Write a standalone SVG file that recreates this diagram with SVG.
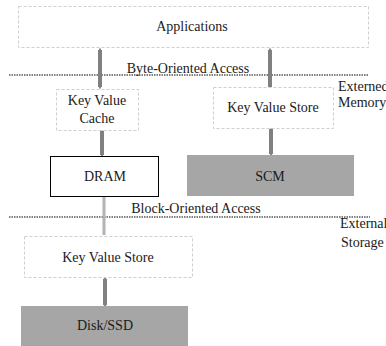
<svg xmlns="http://www.w3.org/2000/svg" width="386" height="346" viewBox="0 0 386 346" font-family="'Liberation Serif', 'Times New Roman', serif">
<defs>
<style>
text{font-family:"Liberation Serif","Times New Roman",serif;font-size:14px;fill:#1a1a1a}
.c{text-anchor:middle}
.dash{fill:#fff;stroke:#cfcfcf;stroke-width:1;stroke-dasharray:3 2}
.gray{fill:#a6a6a6;stroke:none}
.sep{stroke:#000;stroke-width:1;stroke-dasharray:1.5 1}
.arr{stroke:#808080;stroke-width:4;fill:none;marker-start:url(#h);marker-end:url(#h)}
</style>
<marker id="h" viewBox="0 0 4 4" refX="2" refY="2" markerWidth="1.75" markerHeight="1.2" orient="auto-start-reverse" markerUnits="strokeWidth">
<path d="M0,0 L4,2 L0,4 Z" fill="#808080"/>
</marker>
</defs>
<g id="connectors">
<line class="sep" x1="9" y1="75" x2="368" y2="75"/>
<line class="sep" x1="9" y1="217" x2="370" y2="217"/>
<line class="arr" x1="100" y1="50" x2="100" y2="87"/>
<line class="arr" x1="270" y1="50" x2="270" y2="87"/>
<line class="arr" x1="102" y1="131" x2="102" y2="155"/>
<line class="arr" x1="271" y1="129" x2="271" y2="154"/>
<line x1="104" y1="196" x2="104" y2="235" stroke="#b3b3b3" stroke-width="3"/>
<line class="arr" x1="105" y1="279" x2="105" y2="305"/>
</g>
<g id="applications">
<rect class="dash" x="18.5" y="6.5" width="350" height="41"/>
<text class="c" x="192" y="31">Applications</text>
</g>
<g id="byte-label"><text class="c" x="188" y="73">Byte-Oriented Access</text></g>
<g id="kv-cache">
<rect class="dash" x="56.5" y="89.5" width="82" height="41"/>
<text class="c" x="97" y="105">Key Value</text>
<text class="c" x="97" y="123">Cache</text>
</g>
<g id="kv-store-top">
<rect class="dash" x="213.5" y="87.5" width="120" height="41"/>
<text class="c" x="273" y="112">Key Value Store</text>
</g>
<g id="ext-memory">
<text x="338" y="91">Externed</text>
<text x="338" y="107">Memory</text>
</g>
<g id="dram">
<rect x="50.5" y="156.5" width="108" height="40" fill="#fff" stroke="#000" stroke-width="1"/>
<text class="c" x="105" y="181">DRAM</text>
</g>
<g id="scm">
<rect class="gray" x="187" y="155" width="167" height="41"/>
<text class="c" x="270" y="181">SCM</text>
</g>
<g id="block-label"><text class="c" x="196" y="213">Block-Oriented Access</text></g>
<g id="ext-storage">
<text x="340" y="228">External</text>
<text x="341" y="247">Storage</text>
</g>
<g id="kv-store-bottom">
<rect class="dash" x="24.5" y="236.5" width="168" height="41"/>
<text class="c" x="108" y="262">Key Value Store</text>
</g>
<g id="disk">
<rect class="gray" x="21" y="306" width="167" height="40"/>
<text class="c" x="105" y="330">Disk/SSD</text>
</g>
</svg>
